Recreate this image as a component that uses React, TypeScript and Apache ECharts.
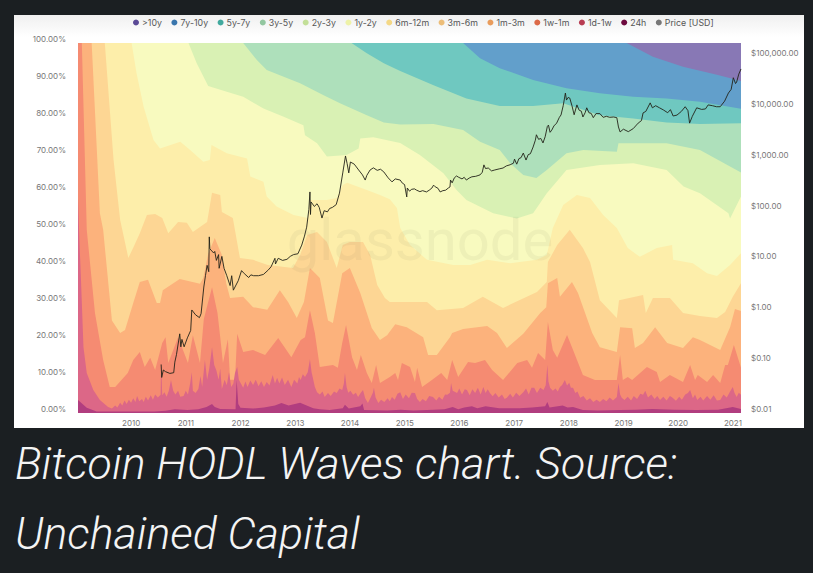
import React, { useEffect, useRef } from "react";
import * as echarts from "echarts";

type P = [number, number];

const LEGEND_NAMES = [">10y", "7y-10y", "5y-7y", "3y-5y", "2y-3y", "1y-2y", "6m-12m", "3m-6m", "1m-3m", "1w-1m", "1d-1w", "24h"];
const LEGEND_COLORS = ["#5b4a96", "#3a76ad", "#41a99e", "#93c7a0", "#c3df98", "#eef2a8", "#f4d886", "#ecbd78", "#e99c5c", "#dc6a48", "#b83c52", "#6d0a3e"];
const FILL_COLORS = ["#8878b5", "#629fcb", "#6fc8c0", "#aee0bb", "#d9f1b4", "#f8fabf", "#fdeeaa", "#fdd694", "#fcb27c", "#f58b72", "#dc6787", "#b13d7f"];

// Share of supply at or younger than each age band (upper edge of each wave, %), [year, share]
const over10y: P[] = [[2009, 100], [2021.12, 100]];
const y7to10: P[] = [[2009, 100], [2019.03, 100], [2019.51, 96.3], [2020.06, 93.6], [2020.68, 91.4], [2021.12, 89.7]];
const y5to7: P[] = [[2009, 100], [2016.04, 100], [2016.35, 95.9], [2016.71, 93.2], [2017.32, 90], [2017.93, 87.8], [2018.54, 86.4], [2019.15, 85.5], [2019.76, 85], [2020.37, 84.1], [2021.12, 82.2]];
const y3to5: P[] = [[2009, 100], [2014, 100], [2014.28, 97.2], [2014.59, 94.5], [2014.89, 92.4], [2015.5, 88.6], [2016.1, 85], [2016.71, 83], [2017.32, 83], [2017.87, 83.7], [2018.54, 80.5], [2019.15, 79.6], [2019.76, 78.5], [2020.37, 78.1], [2021.12, 78.3]];
const y2to3: P[] = [[2009, 100], [2012.02, 100], [2012.27, 95.4], [2012.45, 92.7], [2012.76, 90.9], [2013.06, 89.1], [2013.49, 85.9], [2013.79, 83.7], [2014.28, 80.5], [2014.59, 78.5], [2014.89, 78], [2015.5, 78.1], [2016.04, 76.5], [2016.35, 73.3], [2016.71, 71.1], [2016.9, 67.5], [2017.14, 64.3], [2017.38, 63.5], [2017.57, 65.7], [2017.93, 70.2], [2018.24, 71.1], [2018.85, 70.6], [2018.88, 72.9], [2019.76, 72.9], [2020.37, 71.1], [2021.12, 65]];
const y1to2: P[] = [[2009, 100], [2011.02, 100], [2011.17, 94.5], [2011.38, 88.4], [2011.72, 86.8], [2012.02, 85.5], [2012.39, 82.3], [2012.76, 80.1], [2013.12, 77.8], [2013.15, 75.1], [2013.37, 72.9], [2013.55, 69.3], [2013.91, 69.7], [2014.13, 71.5], [2014.16, 74.2], [2014.4, 74.5], [2014.89, 73], [2015.25, 69.7], [2015.68, 64.8], [2015.92, 60.3], [2016.1, 57.6], [2016.59, 54], [2017.02, 52.6], [2017.32, 54], [2017.57, 59.4], [2017.93, 65.7], [2018.54, 67], [2019.15, 67.5], [2019.76, 65.7], [2020.07, 61.2], [2020.37, 59.4], [2020.89, 54], [2020.92, 52.6], [2021.12, 58.5]];
const m6to12: P[] = [[2009, 100], [2009.98, 100], [2010.07, 91.8], [2010.2, 82.8], [2010.38, 73.8], [2010.5, 71.5], [2010.87, 73.3], [2011.05, 71.1], [2011.29, 67.9], [2011.41, 68.4], [2011.44, 72.4], [2011.72, 70.2], [2012.09, 68.8], [2012.15, 63.9], [2012.39, 62.5], [2012.45, 58.5], [2012.63, 55.8], [2012.94, 53.5], [2013.2, 52.7], [2013.24, 57.6], [2013.55, 57.6], [2013.73, 58.1], [2013.84, 61.6], [2013.92, 62.2], [2014.28, 60.3], [2014.52, 58.9], [2014.7, 57.8], [2014.83, 55.4], [2014.89, 50], [2015.07, 45.4], [2015.38, 41.4], [2015.86, 40], [2016.17, 40], [2016.48, 41.4], [2016.9, 40.5], [2017.39, 41.4], [2017.57, 42.7], [2017.68, 50], [2017.87, 56.2], [2018.12, 58.9], [2018.36, 58.1], [2018.6, 53.5], [2018.85, 50], [2019.05, 44.6], [2019.27, 42.2], [2019.58, 44.6], [2019.86, 45.4], [2019.88, 41.4], [2020.24, 40.5], [2020.5, 37.8], [2020.68, 37], [2020.92, 40], [2021.12, 43.2]];
const m3to6: P[] = [[2009, 100], [2009.49, 100], [2009.65, 68.4], [2009.77, 52.2], [2009.92, 41.9], [2010.02, 45], [2010.13, 48.6], [2010.26, 53.5], [2010.41, 53.8], [2010.54, 52.7], [2010.65, 48.6], [2010.83, 51.6], [2010.99, 51.4], [2011.1, 48.9], [2011.36, 51.6], [2011.45, 59.5], [2011.6, 58.9], [2011.63, 54.3], [2011.83, 52.7], [2011.96, 41.9], [2012.2, 41.4], [2012.47, 40], [2012.93, 39.2], [2013.06, 42.7], [2013.19, 48.1], [2013.37, 48.9], [2013.55, 46.2], [2013.73, 39.2], [2013.84, 45.4], [2013.97, 46.2], [2014.21, 46.2], [2014.34, 42.7], [2014.47, 34.6], [2014.61, 31.1], [2014.7, 30], [2015.38, 30], [2015.56, 27.8], [2016.04, 28.4], [2016.4, 31.4], [2016.77, 28.4], [2017.39, 32.7], [2017.57, 35.4], [2017.59, 40.8], [2017.76, 45.4], [2017.99, 49.5], [2018.23, 44.6], [2018.36, 40.8], [2018.54, 30.5], [2018.85, 25.7], [2018.89, 30.5], [2019.33, 31.9], [2019.38, 27], [2019.51, 31.1], [2019.82, 31.1], [2020.06, 27], [2020.37, 26.2], [2020.68, 25.7], [2020.83, 27.3], [2020.97, 31.4], [2021.12, 35.1]];
const m1to3: P[] = [[2009, 100], [2009.25, 100], [2009.4, 54], [2009.46, 49.5], [2009.62, 25], [2009.77, 21.6], [2009.86, 22.4], [2010.01, 29.7], [2010.13, 35.4], [2010.28, 36], [2010.44, 29.7], [2010.5, 29.7], [2010.55, 33.2], [2010.86, 36.2], [2011.23, 34.9], [2011.29, 36.5], [2011.38, 43], [2011.5, 47.3], [2011.63, 42.7], [2011.71, 35], [2011.78, 31.1], [2012.02, 31.4], [2012.2, 28.6], [2012.46, 27.9], [2012.69, 33.2], [2012.84, 30], [2013, 25.7], [2013.13, 30], [2013.24, 39.2], [2013.42, 36.5], [2013.57, 25], [2013.66, 24.3], [2013.83, 37.8], [2013.97, 39.2], [2014.16, 32.4], [2014.37, 23], [2014.52, 19.7], [2014.65, 21], [2014.8, 24], [2015.01, 23.2], [2015.31, 20.5], [2015.4, 15.7], [2015.56, 15.7], [2015.8, 20.5], [2015.84, 21.6], [2016.04, 22.7], [2016.48, 23.5], [2016.66, 21.6], [2016.84, 17.6], [2017.14, 21.4], [2017.45, 27], [2017.56, 28.6], [2017.59, 35.1], [2017.76, 36.5], [2017.81, 31.4], [2018.03, 35.4], [2018.14, 32.4], [2018.4, 21.6], [2018.54, 17.8], [2018.85, 16.5], [2018.91, 23.2], [2019.13, 22.9], [2019.18, 17.6], [2019.33, 18.9], [2019.55, 23.2], [2019.77, 18.9], [2020.06, 17.6], [2020.24, 20.5], [2020.37, 19.7], [2020.74, 17], [2020.92, 23.2], [2021.01, 28.1], [2021.12, 27.6]];
const w1toM1: P[] = [[2009, 100], [2009.07, 100], [2009.16, 49.5], [2009.31, 27], [2009.46, 14.3], [2009.58, 7], [2009.68, 7], [2009.91, 10.8], [2010.01, 14.3], [2010.13, 16.5], [2010.22, 12.4], [2010.32, 14.9], [2010.41, 11.6], [2010.54, 18.9], [2010.6, 20.5], [2010.65, 13.5], [2010.83, 20.5], [2011.01, 13.5], [2011.1, 21], [2011.23, 13.5], [2011.3, 25.4], [2011.45, 34], [2011.55, 27], [2011.6, 20.5], [2011.65, 13.5], [2011.74, 19.9], [2011.78, 9], [2011.87, 9], [2011.91, 21.4], [2012.02, 16.5], [2012.2, 17], [2012.42, 15.7], [2012.66, 20.3], [2012.9, 15.1], [2013.07, 19.7], [2013.15, 20.5], [2013.24, 27.8], [2013.33, 21.6], [2013.42, 12.4], [2013.66, 13], [2013.75, 12.2], [2013.83, 18.9], [2013.9, 23.8], [2014.01, 15.1], [2014.1, 11.6], [2014.17, 15.7], [2014.28, 10.8], [2014.37, 8.1], [2014.45, 13], [2014.52, 8.1], [2014.7, 9.7], [2014.8, 10.8], [2014.85, 8.9], [2014.92, 13.5], [2015.07, 12.4], [2015.16, 8.4], [2015.2, 12.2], [2015.29, 7], [2015.47, 8.9], [2015.64, 10.8], [2015.75, 8.9], [2015.84, 14.3], [2015.95, 9.7], [2016.13, 13.8], [2016.26, 13.5], [2016.44, 14.3], [2016.57, 11.6], [2016.77, 8.9], [2017.03, 13.5], [2017.21, 14.3], [2017.3, 12.2], [2017.41, 16.2], [2017.54, 14.3], [2017.59, 24.6], [2017.68, 17], [2017.76, 14.9], [2017.94, 21.1], [2018.05, 17], [2018.23, 10.3], [2018.45, 8.9], [2018.85, 8.9], [2018.91, 15.7], [2018.96, 8.9], [2019.05, 9.7], [2019.13, 8.9], [2019.4, 12.4], [2019.58, 11.1], [2019.64, 8.4], [2019.82, 10.3], [2020.06, 8.4], [2020.19, 13], [2020.28, 8.9], [2020.33, 10.3], [2020.5, 8.4], [2020.61, 10.3], [2020.74, 8.1], [2020.83, 13], [2020.88, 13], [2020.99, 18.4], [2021.12, 12.2]];
const d1toW1: P[] = [[2009, 58], [2009.03, 45], [2009.05, 37.8], [2009.1, 17.8], [2009.16, 10.8], [2009.28, 6.2], [2009.4, 3.5], [2009.55, 1.6], [2009.62, 1.2], [2009.68, 2], [2009.72, 1.5], [2009.77, 2.8], [2009.81, 2], [2009.85, 3.4], [2009.89, 2.4], [2009.93, 3.6], [2009.97, 2.8], [2010.01, 4], [2010.05, 3], [2010.08, 4.6], [2010.12, 3.2], [2010.17, 3.8], [2010.2, 3], [2010.24, 4.4], [2010.28, 3.4], [2010.33, 4.8], [2010.37, 3.6], [2010.41, 5], [2010.46, 4.2], [2010.51, 4.9], [2010.52, 13.5], [2010.54, 4.8], [2010.58, 5.6], [2010.62, 4.4], [2010.66, 6], [2010.7, 8.9], [2010.74, 6], [2010.78, 5], [2010.83, 6], [2010.87, 4.4], [2010.93, 4.6], [2010.97, 6], [2011.01, 5], [2011.05, 8], [2011.08, 11], [2011.1, 6], [2011.15, 5.4], [2011.2, 6.5], [2011.24, 10], [2011.27, 7], [2011.32, 14.3], [2011.36, 9], [2011.4, 12], [2011.45, 17.8], [2011.49, 13], [2011.53, 11.5], [2011.57, 9], [2011.6, 12], [2011.63, 6.5], [2011.68, 9], [2011.72, 7.5], [2011.76, 11], [2011.8, 7], [2011.84, 8], [2011.87, 10.8], [2011.91, 12.4], [2011.94, 9], [2012.02, 6.8], [2012.06, 8.5], [2012.1, 7], [2012.15, 8.8], [2012.2, 7.6], [2012.25, 9], [2012.3, 7.2], [2012.35, 8.6], [2012.4, 7], [2012.45, 8.4], [2012.5, 7.4], [2012.56, 10.3], [2012.6, 8], [2012.64, 9.5], [2012.68, 8], [2012.73, 9.6], [2012.78, 7.6], [2012.84, 9], [2012.9, 7], [2012.95, 9], [2013.01, 8], [2013.04, 9.7], [2013.07, 8.9], [2013.11, 10.5], [2013.15, 9.7], [2013.2, 11], [2013.24, 14.5], [2013.27, 11], [2013.29, 9.7], [2013.33, 7], [2013.37, 5.6], [2013.42, 5], [2013.47, 5.8], [2013.51, 4.3], [2013.57, 5.4], [2013.62, 4.6], [2013.68, 5.8], [2013.73, 5.4], [2013.78, 6.6], [2013.83, 6.2], [2013.86, 8], [2013.88, 10.8], [2013.91, 7], [2013.94, 5.5], [2013.98, 6], [2014.03, 4.9], [2014.08, 5.5], [2014.12, 4.3], [2014.17, 5.5], [2014.21, 6.2], [2014.25, 4], [2014.3, 2.7], [2014.35, 4.2], [2014.39, 5.5], [2014.41, 6.8], [2014.44, 4.2], [2014.49, 2.7], [2014.54, 3.6], [2014.6, 3], [2014.66, 4], [2014.7, 3.2], [2014.74, 4.3], [2014.79, 3.6], [2014.84, 5.2], [2014.89, 5.6], [2014.94, 3.8], [2014.99, 5], [2015.05, 4], [2015.1, 5.5], [2015.16, 5.4], [2015.2, 3.8], [2015.25, 3], [2015.3, 3.8], [2015.36, 3.2], [2015.42, 4.6], [2015.49, 4.3], [2015.55, 3.4], [2015.6, 4.4], [2015.66, 3.6], [2015.71, 5], [2015.75, 4.9], [2015.8, 5.5], [2015.82, 8.1], [2015.85, 6], [2015.93, 5.4], [2015.97, 6.6], [2016.02, 5], [2016.07, 6.4], [2016.11, 6.2], [2016.16, 4.8], [2016.21, 6.4], [2016.26, 5.4], [2016.31, 6.8], [2016.36, 5], [2016.41, 7], [2016.45, 5.4], [2016.49, 6.4], [2016.53, 5.4], [2016.58, 4.5], [2016.63, 5.4], [2016.69, 4.2], [2016.75, 5], [2016.8, 3.8], [2016.84, 4.1], [2016.9, 5.2], [2016.95, 4.2], [2017.01, 5.5], [2017.07, 4.6], [2017.14, 5.6], [2017.19, 6.6], [2017.24, 5], [2017.29, 6.8], [2017.34, 6.8], [2017.39, 5.4], [2017.45, 6.8], [2017.51, 6.2], [2017.55, 7.5], [2017.58, 13], [2017.6, 8.5], [2017.63, 6.8], [2017.68, 6], [2017.73, 6.6], [2017.77, 5.8], [2017.81, 7], [2017.85, 7.6], [2017.9, 8.9], [2017.94, 7.4], [2017.98, 8.2], [2018.01, 6.8], [2018.05, 6.8], [2018.09, 5.4], [2018.13, 5.8], [2018.18, 4.1], [2018.24, 4.6], [2018.3, 3.4], [2018.36, 4], [2018.42, 3], [2018.48, 3.6], [2018.54, 3], [2018.6, 3.8], [2018.66, 3.2], [2018.72, 4.2], [2018.78, 3.4], [2018.85, 4.3], [2018.88, 8.1], [2018.91, 5], [2018.94, 4.1], [2018.99, 3.5], [2019.05, 4.4], [2019.11, 3.4], [2019.16, 4.6], [2019.22, 3.8], [2019.28, 5.2], [2019.33, 4.9], [2019.37, 6], [2019.42, 4.2], [2019.48, 5], [2019.54, 3.8], [2019.59, 4.6], [2019.64, 3.5], [2019.7, 4.4], [2019.76, 3.4], [2019.82, 4.6], [2019.87, 4.1], [2019.93, 3.3], [2019.99, 4.4], [2020.04, 3.6], [2020.1, 5], [2020.15, 5.4], [2020.19, 6.2], [2020.24, 4], [2020.28, 5], [2020.32, 3.5], [2020.38, 4.4], [2020.43, 3.4], [2020.5, 4.6], [2020.56, 3.6], [2020.62, 4.8], [2020.68, 3.4], [2020.74, 3.5], [2020.8, 5], [2020.86, 4.2], [2020.92, 5.8], [2020.97, 7], [2021, 5.5], [2021.04, 4.3], [2021.08, 5.5], [2021.12, 4.9]];
const h24: P[] = [[2009, 3.5], [2009.16, 1.4], [2009.34, 0.4], [2010.4, 0.4], [2010.6, 0.6], [2010.77, 1], [2011, 0.8], [2011.2, 1], [2011.35, 1.6], [2011.45, 2.4], [2011.5, 1.6], [2011.6, 1.1], [2011.88, 1], [2011.9, 8.9], [2011.93, 2.4], [2011.97, 1.4], [2012.2, 1.2], [2012.4, 1.5], [2012.6, 2], [2012.72, 2.7], [2012.85, 2], [2013.06, 2.8], [2013.18, 2], [2013.3, 1.3], [2013.42, 1], [2013.6, 0.8], [2013.84, 1.3], [2013.88, 2.2], [2013.95, 1.2], [2014.16, 1.8], [2014.2, 2.6], [2014.23, 0.8], [2014.65, 0.7], [2014.9, 0.9], [2015.13, 0.7], [2015.5, 0.9], [2015.7, 1], [2015.85, 1.6], [2015.95, 1], [2016.06, 1.5], [2016.2, 1.8], [2016.3, 1.3], [2016.45, 1.8], [2016.7, 1.3], [2017.07, 1.3], [2017.3, 1.5], [2017.54, 1.8], [2017.58, 3], [2017.62, 1.5], [2017.86, 2], [2017.95, 1.5], [2018.05, 1.6], [2018.23, 0.8], [2018.5, 0.7], [2018.91, 0.8], [2019.2, 0.9], [2019.5, 1.1], [2019.9, 0.9], [2020.3, 0.8], [2020.7, 0.9], [2020.97, 1.6], [2021.12, 1.1]];
const WAVES = [over10y, y7to10, y5to7, y3to5, y2to3, y1to2, m6to12, m3to6, m1to3, w1toM1, d1toW1, h24];

// Bitcoin price in USD, [year, price]
const price: P[] = [[2010.52, 0.09], [2010.53, 0.05], [2010.56, 0.07], [2010.6, 0.065], [2010.68, 0.06], [2010.75, 0.062], [2010.77, 0.1], [2010.8, 0.14], [2010.86, 0.36], [2010.88, 0.2], [2010.9, 0.28], [2010.94, 0.2], [2011, 0.3], [2011.06, 0.42], [2011.08, 1.06], [2011.15, 0.85], [2011.22, 0.75], [2011.25, 0.9], [2011.3, 3], [2011.33, 5], [2011.36, 8], [2011.39, 6], [2011.4, 29], [2011.41, 17], [2011.43, 16], [2011.48, 14], [2011.5, 15], [2011.53, 10], [2011.57, 13], [2011.58, 7], [2011.63, 12], [2011.67, 7], [2011.72, 5], [2011.78, 3.2], [2011.81, 5], [2011.84, 2.6], [2011.93, 4], [2011.99, 6.3], [2012.04, 5.5], [2012.12, 4.6], [2012.16, 5.2], [2012.21, 5], [2012.3, 5], [2012.39, 5.3], [2012.48, 6.5], [2012.53, 7.5], [2012.6, 11], [2012.61, 8.5], [2012.66, 11], [2012.74, 10], [2012.82, 10.5], [2012.88, 12], [2012.94, 13], [2013.02, 13.5], [2013.09, 20], [2013.14, 30], [2013.18, 45], [2013.22, 100], [2013.24, 222], [2013.25, 80], [2013.26, 141], [2013.32, 115], [2013.37, 130], [2013.41, 110], [2013.46, 68], [2013.5, 95], [2013.56, 90], [2013.6, 105], [2013.65, 110], [2013.72, 125], [2013.78, 210], [2013.84, 525], [2013.89, 1130], [2013.92, 800], [2013.95, 525], [2013.98, 860], [2014.05, 780], [2014.13, 600], [2014.2, 480], [2014.25, 380], [2014.28, 470], [2014.34, 600], [2014.4, 660], [2014.47, 590], [2014.53, 620], [2014.59, 550], [2014.67, 420], [2014.74, 350], [2014.8, 400], [2014.89, 380], [2014.93, 330], [2014.97, 310], [2015.01, 177], [2015.02, 265], [2015.06, 230], [2015.1, 250], [2015.15, 255], [2015.19, 240], [2015.25, 225], [2015.3, 235], [2015.37, 222], [2015.42, 240], [2015.47, 265], [2015.5, 302], [2015.53, 280], [2015.58, 262], [2015.62, 222], [2015.67, 235], [2015.72, 240], [2015.77, 265], [2015.8, 278], [2015.81, 380], [2015.84, 335], [2015.88, 420], [2015.92, 457], [2015.96, 430], [2016.02, 400], [2016.06, 430], [2016.1, 380], [2016.15, 415], [2016.2, 440], [2016.27, 450], [2016.35, 480], [2016.39, 540], [2016.42, 755], [2016.45, 640], [2016.5, 655], [2016.56, 575], [2016.62, 600], [2016.7, 630], [2016.77, 655], [2016.83, 720], [2016.9, 760], [2016.96, 815], [2016.98, 980], [2017.02, 780], [2017.06, 1000], [2017.1, 1050], [2017.14, 1290], [2017.19, 940], [2017.23, 1200], [2017.27, 1250], [2017.32, 1700], [2017.36, 2300], [2017.38, 2950], [2017.42, 2400], [2017.46, 2500], [2017.5, 2040], [2017.54, 2700], [2017.58, 4300], [2017.6, 4570], [2017.63, 3300], [2017.66, 3630], [2017.7, 4400], [2017.75, 5000], [2017.8, 6500], [2017.83, 7240], [2017.87, 11000], [2017.91, 19500], [2017.93, 14200], [2017.96, 16000], [2017.99, 15500], [2018.03, 11000], [2018.07, 7300], [2018.12, 11400], [2018.16, 9000], [2018.2, 8600], [2018.23, 6600], [2018.27, 8000], [2018.3, 10000], [2018.34, 8000], [2018.38, 7800], [2018.42, 6400], [2018.47, 7700], [2018.54, 7700], [2018.6, 6500], [2018.66, 6800], [2018.72, 6500], [2018.79, 6600], [2018.85, 6400], [2018.88, 4200], [2018.91, 3350], [2018.97, 3800], [2019.06, 3400], [2019.15, 3900], [2019.24, 5000], [2019.3, 5600], [2019.33, 7940], [2019.38, 8500], [2019.46, 12500], [2019.5, 10000], [2019.56, 11000], [2019.63, 10000], [2019.7, 9100], [2019.78, 8000], [2019.83, 9200], [2019.88, 6900], [2019.95, 7200], [2020.03, 8500], [2020.1, 10500], [2020.15, 8800], [2020.18, 5000], [2020.23, 6800], [2020.31, 10000], [2020.4, 9300], [2020.47, 9500], [2020.52, 11400], [2020.6, 11000], [2020.67, 10500], [2020.74, 10500], [2020.82, 13500], [2020.89, 19500], [2020.94, 23000], [2020.98, 39000], [2021.02, 30000], [2021.04, 32000], [2021.08, 46000], [2021.12, 58000]];

const CAPTION = "Bitcoin HODL Waves chart. Source:\nUnchained Capital";
const WATERMARK = "glassnode";

export default function App() {
  const ref = useRef<HTMLDivElement>(null);
  useEffect(() => {
    document.body.style.margin = "0";
    document.body.style.background = "#1b1f22";
    const chart = echarts.init(ref.current!, undefined, { renderer: "svg" });
    const font = "Inter";
    const labelColor = "#777";
    const waveSeries = WAVES.map((data, i) => ({
      name: LEGEND_NAMES[i],
      type: "line",
      data,
      yAxisIndex: 0,
      showSymbol: false,
      silent: true,
      itemStyle: { color: LEGEND_COLORS[i] },
      lineStyle: { width: 0 },
      areaStyle: { color: FILL_COLORS[i], opacity: 1 },
    }));
    chart.setOption({
      animation: false,
      backgroundColor: "#1b1f22",
      title: {
        text: CAPTION,
        left: 15,
        top: 429,
        padding: 0,
        textStyle: { color: "#f4f4f4", fontFamily: "Roboto", fontStyle: "italic", fontWeight: 300, fontSize: 44.7, lineHeight: 70 },
      },
      graphic: [
        { type: "rect", z: -2, shape: { x: 14, y: 15, width: 790, height: 413 }, style: { fill: "#ffffff" } },
        {
          type: "rect", z: -1, shape: { x: 14, y: 15, width: 790, height: 22 },
          style: { fill: new echarts.graphic.LinearGradient(0, 0, 0, 1, [{ offset: 0, color: "#f0f0f0" }, { offset: 1, color: "#ffffff" }]) },
        },
        {
          type: "text", z: 10, silent: true, x: 420, y: 240,
          style: { text: WATERMARK, fill: "rgba(110,110,90,0.07)", font: "400 58px Roboto", align: "center", verticalAlign: "middle" },
        },
      ],
      legend: {
        top: 13,
        left: 128,
        icon: "circle",
        itemWidth: 6,
        itemHeight: 6,
        itemGap: 9.5,
        textStyle: { fontFamily: font, fontSize: 8.8, color: "#555", padding: [0, 0, 0, -2] },
        data: [...LEGEND_NAMES, "Price [USD]"],
      },
      grid: { left: 78, right: 72, top: 43, bottom: 160 },
      xAxis: {
        type: "value",
        min: 2009,
        max: 2021.12,
        interval: 1,
        axisLine: { show: false },
        axisTick: { show: false },
        splitLine: { show: false },
        axisLabel: {
          margin: 6,
          fontFamily: font,
          fontSize: 8,
          color: labelColor,
          padding: [0, 3, 0, 0],
          showMinLabel: false,
          showMaxLabel: false,
          formatter: (v: number) => String(v),
        },
      },
      yAxis: [
        {
          type: "value",
          min: 0,
          max: 100,
          interval: 10,
          axisLine: { show: false },
          axisTick: { show: false },
          splitLine: { show: false },
          axisLabel: {
            margin: 12,
            fontFamily: font,
            fontSize: 8,
            color: labelColor,
            verticalAlign: "bottom",
            lineHeight: 8,
            formatter: (v: number) => v.toFixed(2) + "%",
          },
        },
        {
          type: "log",
          logBase: 10,
          min: 0.01,
          max: 188000,
          position: "right",
          axisLine: { show: false },
          axisTick: { show: false },
          splitLine: { show: false },
          axisLabel: {
            margin: 10,
            fontFamily: font,
            fontSize: 8,
            color: labelColor,
            verticalAlign: "bottom",
            lineHeight: 8,
            showMaxLabel: false,
            formatter: (v: number) => "$" + v.toLocaleString("en-US", { minimumFractionDigits: 2, maximumFractionDigits: 2 }),
          },
        },
      ],
      series: [
        ...waveSeries,
        {
          name: "Price [USD]",
          type: "line",
          yAxisIndex: 1,
          data: price,
          showSymbol: false,
          silent: true,
          z: 5,
          itemStyle: { color: "#777777" },
          lineStyle: { color: "#222218", width: 0.9 },
        },
      ],
    });
    return () => chart.dispose();
  }, []);
  return <div ref={ref} style={{ width: 813, height: 573 }} />;
}
